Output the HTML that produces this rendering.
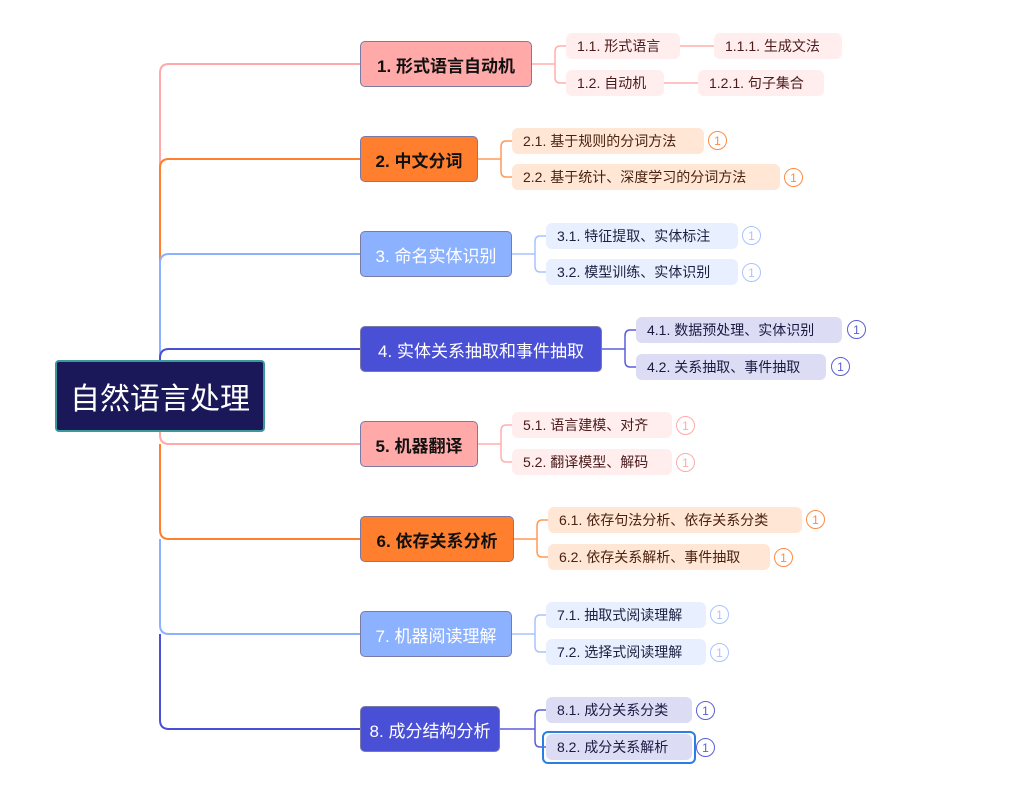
<!DOCTYPE html>
<html><head><meta charset="utf-8"><style>
body{margin:0;width:1027px;height:787px;background:#fff;position:relative;overflow:hidden;font-family:"Liberation Sans","Noto Sans CJK SC",sans-serif}
.n{position:absolute;box-sizing:border-box;display:flex;align-items:center;justify-content:center;white-space:nowrap}
.m{height:46px;border-radius:5px;border:1px solid #7a7aa8;font-size:17px}
.c{height:26px;border-radius:6px;font-size:14px;padding:0 0 0 11px;justify-content:flex-start}
.b{position:absolute;width:19px;height:19px;border-radius:50%;box-sizing:border-box;border:1.5px solid;font-size:12px;display:flex;align-items:center;justify-content:center;background:#fff}
.p{background:#ffaaa8;color:#111;font-weight:bold}
.o{background:#ff7f2e;color:#111;font-weight:bold}
.l{background:#8cb2ff;color:#fff}
.d{background:#4a50d6;color:#fff}
.cp{background:#ffeeed;color:#4a1a1a}
.co{background:#ffe6d5;color:#4a2210}
.cl{background:#e8efff;color:#1a2040}
.cd{background:#dcddf5;color:#1a1a40}
.bp{border-color:#ffaaa8;color:#ffaaa8}.bo{border-color:#ff8a44;color:#ff8a44}.bl{border-color:#a8c4ff;color:#a8c4ff}.bd{border-color:#5a5fd8;color:#5a5fd8}
</style></head><body>
<svg width="1027" height="787" style="position:absolute;left:0;top:0" fill="none" stroke-width="2">
<path d="M160 396 V73 Q160 64 169 64 H360" stroke="#ffaaa8"/>
<path d="M160 396 V168 Q160 159 169 159 H360" stroke="#ff7f2e"/>
<path d="M160 396 V263 Q160 254 169 254 H360" stroke="#8cb2ff"/>
<path d="M160 396 V358 Q160 349 169 349 H360" stroke="#4a50d6"/>
<path d="M160 396 V435 Q160 444 169 444 H360" stroke="#ffaaa8"/>
<path d="M160 444 V530 Q160 539 169 539 H360" stroke="#ff7f2e"/>
<path d="M160 539 V625 Q160 634 169 634 H360" stroke="#8cb2ff"/>
<path d="M160 634 V720 Q160 729 169 729 H360" stroke="#4a50d6"/>
<g stroke-width="1.5">
<path d="M532 64 H555 M566 46 H560 Q555 46 555 52 V77 Q555 83 560 83 H566 M680 46 H714 M664 83 H698" stroke="#ffb0ae"/>
<path d="M478 159 H501 M512 141 H506 Q501 141 501 147 V171 Q501 177 506 177 H512" stroke="#ff9a5a"/>
<path d="M512 254 H535 M546 236 H540 Q535 236 535 242 V266 Q535 272 540 272 H546" stroke="#a8c4ff"/>
<path d="M602 349 H625 M636 330 H630 Q625 330 625 336 V361 Q625 367 630 367 H636" stroke="#5a5fd8"/>
<path d="M478 444 H501 M512 425 H506 Q501 425 501 431 V456 Q501 462 506 462 H512" stroke="#ffb0ae"/>
<path d="M514 539 H537 M548 520 H542 Q537 520 537 526 V551 Q537 557 542 557 H548" stroke="#ff9a5a"/>
<path d="M512 634 H535 M546 615 H540 Q535 615 535 621 V646 Q535 652 540 652 H546" stroke="#a8c4ff"/>
<path d="M500 729 H535 M546 710 H540 Q535 710 535 716 V741 Q535 747 540 747 H546" stroke="#5a5fd8"/>
</g>
</svg>
<div class="n" style="left:55px;top:360px;width:210px;height:72px;background:#1a1858;border:2px solid #3a9a9a;border-radius:4px;color:#fff;font-size:30px">自然语言处理</div>

<div class="n m p" style="left:360px;top:41px;width:172px">1. 形式语言自动机</div>
<div class="n m o" style="left:360px;top:136px;width:118px">2. 中文分词</div>
<div class="n m l" style="left:360px;top:231px;width:152px">3. 命名实体识别</div>
<div class="n m d" style="left:360px;top:326px;width:242px">4. 实体关系抽取和事件抽取</div>
<div class="n m p" style="left:360px;top:421px;width:118px">5. 机器翻译</div>
<div class="n m o" style="left:360px;top:516px;width:154px">6. 依存关系分析</div>
<div class="n m l" style="left:360px;top:611px;width:152px">7. 机器阅读理解</div>
<div class="n m d" style="left:360px;top:706px;width:140px">8. 成分结构分析</div>

<div class="n c cp" style="left:566px;top:33px;width:114px">1.1. 形式语言</div>
<div class="n c cp" style="left:714px;top:33px;width:128px">1.1.1. 生成文法</div>
<div class="n c cp" style="left:566px;top:70px;width:98px">1.2. 自动机</div>
<div class="n c cp" style="left:698px;top:70px;width:126px">1.2.1. 句子集合</div>

<div class="n c co" style="left:512px;top:128px;width:192px">2.1. 基于规则的分词方法</div><div class="b bo" style="left:708px;top:131px">1</div>
<div class="n c co" style="left:512px;top:164px;width:268px">2.2. 基于统计、深度学习的分词方法</div><div class="b bo" style="left:784px;top:168px">1</div>

<div class="n c cl" style="left:546px;top:223px;width:192px">3.1. 特征提取、实体标注</div><div class="b bl" style="left:742px;top:226px">1</div>
<div class="n c cl" style="left:546px;top:259px;width:192px">3.2. 模型训练、实体识别</div><div class="b bl" style="left:742px;top:263px">1</div>

<div class="n c cd" style="left:636px;top:317px;width:206px">4.1. 数据预处理、实体识别</div><div class="b bd" style="left:847px;top:320px">1</div>
<div class="n c cd" style="left:636px;top:354px;width:190px">4.2. 关系抽取、事件抽取</div><div class="b bd" style="left:831px;top:357px">1</div>

<div class="n c cp" style="left:512px;top:412px;width:160px">5.1. 语言建模、对齐</div><div class="b bp" style="left:676px;top:416px">1</div>
<div class="n c cp" style="left:512px;top:449px;width:160px">5.2. 翻译模型、解码</div><div class="b bp" style="left:676px;top:453px">1</div>

<div class="n c co" style="left:548px;top:507px;width:254px">6.1. 依存句法分析、依存关系分类</div><div class="b bo" style="left:806px;top:510px">1</div>
<div class="n c co" style="left:548px;top:544px;width:222px">6.2. 依存关系解析、事件抽取</div><div class="b bo" style="left:774px;top:548px">1</div>

<div class="n c cl" style="left:546px;top:602px;width:160px">7.1. 抽取式阅读理解</div><div class="b bl" style="left:710px;top:605px">1</div>
<div class="n c cl" style="left:546px;top:639px;width:160px">7.2. 选择式阅读理解</div><div class="b bl" style="left:710px;top:643px">1</div>

<div class="n c cd" style="left:546px;top:697px;width:146px">8.1. 成分关系分类</div><div class="b bd" style="left:696px;top:701px">1</div>
<div style="position:absolute;left:542px;top:731px;width:154px;height:33px;border:2px solid #2a7fe0;border-radius:6px;box-sizing:border-box"></div>
<div class="n c cd" style="left:546px;top:734px;width:146px">8.2. 成分关系解析</div><div class="b bd" style="left:696px;top:738px">1</div>
</body></html>
